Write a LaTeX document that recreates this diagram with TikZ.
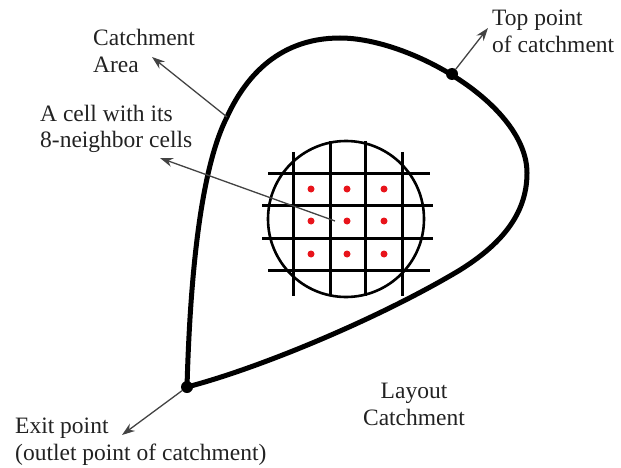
\documentclass[tikz,border=0pt]{standalone}
\usepackage{fontspec}
\setmainfont{Liberation Serif}
\usetikzlibrary{arrows.meta}
\definecolor{ink}{HTML}{222222}
\definecolor{dotred}{HTML}{E8141B}
\tikzset{
  outline/.style={line width=5pt, black, line join=round},
  gridln/.style={line width=3pt, black},
  ptr/.style={line width=1.3pt, ink!85, -{Stealth[length=13pt,width=9pt]}},
  lbl/.style={anchor=base west, align=left, inner sep=0pt, font=\fontsize{23.5}{27}\selectfont, text=ink},
  seed/.style={circle, fill=dotred, inner sep=0pt, minimum size=7pt},
  knot/.style={circle, fill=black, inner sep=0pt, minimum size=12pt},
}

\begin{document}
\begin{tikzpicture}[x=1pt,y=-1pt]
 \useasboundingbox (0,0) rectangle (621,468);
 % catchment boundary
 \draw[outline] (187,387) .. controls (190,280) and (200,170) .. (227,117)
   .. controls (243,82) and (275,38) .. (340,38)
   .. controls (410,38) and (527,105) .. (527,173)
   .. controls (527,215) and (500,245) .. (460,270)
   .. controls (380,318) and (260,368) .. (187,387);
 % window with the cell grid
 \draw[line width=2.6pt] (346,219) circle (78);
 \foreach \gx/\ya in {293/152,330/141,365/141,402/152}
   \draw[gridln] (\gx,\ya) -- (\gx,296);
 \foreach \gy/\xa/\xb in {173/268/430,205/262/433,238/262/433,270/268/430}
   \draw[gridln] (\xa,\gy) -- (\xb,\gy);
 \foreach \i/\cx in {1/311,2/347,3/384}
   \foreach \j/\cy in {1/189,2/221,3/254}
     \node[seed] (cell-\i-\j) at (\cx,\cy) {};
 \node[knot] (top) at (452,74) {};
 \node[knot] (exit) at (187,387) {};
 % labels (base = last line)
 \node[lbl] (area) at (93,73) {Catchment\\Area};
 \node[lbl] (cell) at (40,148) {A cell with its\\8-neighbor cells};
 \node[lbl] (toplbl) at (492,53) {Top point\\of catchment};
 \node[lbl] (exitlbl) at (15,460) {Exit point\\(outlet point of catchment)};
 \node[lbl, anchor=base, align=center] (layout) at (414,425) {Layout\\Catchment};
 % pointers
 \coordinate (rim) at (227,117);
 \coordinate (areatip) at (152,57);
 \coordinate (ctr) at (335,221);
 \coordinate (celltip) at (160,158);
 \coordinate (toptip) at (488,28);
 \coordinate (exittip) at (122,435);
 \draw[ptr] (rim) -- (areatip);
 \draw[ptr] (ctr) -- (celltip);
 \draw[ptr] (top) -- (toptip);
 \draw[ptr] (exit) -- (exittip);
\end{tikzpicture}
\end{document}
